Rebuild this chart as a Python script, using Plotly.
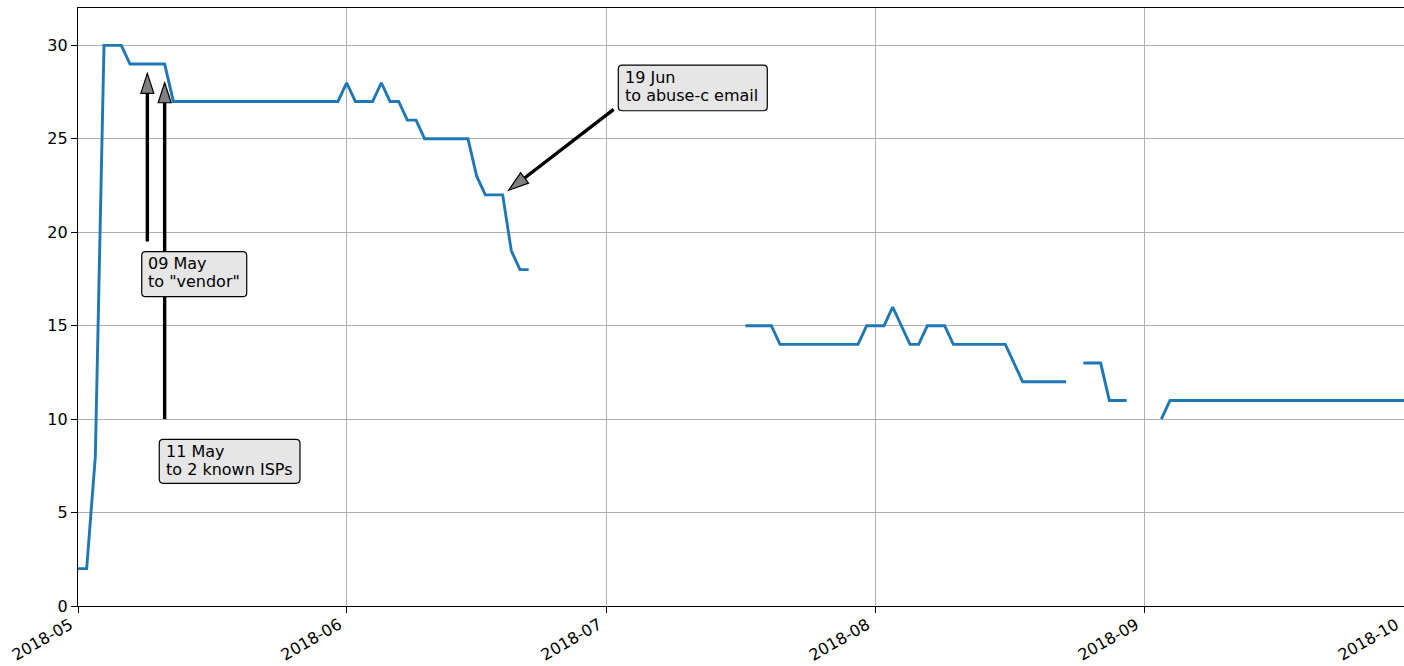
import numpy as np
import pandas as pd
import plotly.graph_objects as go

# ---- daily counts, 2018-05-01 .. 2018-10-01 (None = no measurement) ----
counts_may = [2, 2, 8, 30, 30, 30, 29, 29, 29, 29, 29, 27, 27, 27, 27, 27,
              27, 27, 27, 27, 27, 27, 27, 27, 27, 27, 27, 27, 27, 27, 27]
counts_jun = [28, 27, 27, 27, 28, 27, 27, 26, 26, 25, 25, 25, 25, 25, 25,
              23, 22, 22, 22, 19, 18, 18, None, None, None, None, None, None,
              None, None]
counts_jul = [None, None, None, None, None, None, None, None, None, None,
              None, None, None, None, None, None, 15, 15, 15, 15, 14, 14,
              14, 14, 14, 14, 14, 14, 14, 14, 15]
counts_aug = [15, 15, 16, 15, 14, 14, 15, 15, 15, 14, 14, 14, 14, 14, 14,
              14, 13, 12, 12, 12, 12, 12, 12, None, 13, 13, 13, 11, 11, 11,
              None]
counts_sep = [None, None, 10, 11, 11, 11, 11, 11, 11, 11, 11, 11, 11, 11,
              11, 11, 11, 11, 11, 11, 11, 11, 11, 11, 11, 11, 11, 11, 11, 11]
counts_oct = [11]

dates = pd.date_range("2018-05-01", "2018-10-01", freq="D")
counts = counts_may + counts_jun + counts_jul + counts_aug + counts_sep + counts_oct

# x tick labels at month starts
tick_dates = ["2018-05-01", "2018-06-01", "2018-07-01", "2018-08-01",
              "2018-09-01", "2018-10-01"]
tick_labels = ["2018-05", "2018-06", "2018-07", "2018-08", "2018-09", "2018-10"]
y_ticks = [0, 5, 10, 15, 20, 25, 30]

# notification events: point the arrow at, where the label sits, label lines
note_point_dates = ["2018-05-09", "2018-05-11", "2018-06-19"]
note_point_values = [29, 29, 22]
note_text_dates = ["2018-05-09", "2018-05-11", "2018-07-03"]
note_text_values = [19, 9, 27]
note_lines = [["09 May", 'to "vendor"'],
              ["11 May", "to 2 known ISPs"],
              ["19 Jun", "to abuse-c email"]]

# ---- layout geometry ----
FIG_W, FIG_H = 1404, 666
M_L, M_R, M_T, M_B = 78, 0, 8, 60
PLOT_W = FIG_W - M_L - M_R
PLOT_H = FIG_H - M_T - M_B
X_START = pd.Timestamp("2018-05-01")
X_END = pd.Timestamp("2018-10-01")
Y_MIN, Y_MAX = 0, 32
PX_PER_DAY = PLOT_W / ((X_END - X_START) / pd.Timedelta(days=1))
PX_PER_UNIT = PLOT_H / (Y_MAX - Y_MIN)

FONT = "DejaVu Sans"
FS = 16
LINE_BLUE = "#1f77b4"
GRID = "#b0b0b0"


def to_px(d, v):
    return np.array([((pd.Timestamp(d) - X_START) / pd.Timedelta(days=1)) * PX_PER_DAY,
                     (v - Y_MIN) * PX_PER_UNIT])


fig = go.Figure()
fig.add_trace(go.Scatter(
    x=dates, y=counts, mode="lines",
    line=dict(color=LINE_BLUE, width=2.9),
    connectgaps=False, showlegend=False, hoverinfo="x+y",
))

shapes = []
annotations = []

# arrow from the label towards the point, shortened at both ends
HEAD_LEN, HEAD_W = 20, 13
tail_shrink = [0.95, 0.95, 0.915]
for pd_, pv, td, tv, ts in zip(note_point_dates, note_point_values,
                                note_text_dates, note_text_values, tail_shrink):
    vec = to_px(td, tv) - to_px(pd_, pv)
    u = vec / np.linalg.norm(vec)
    perp = np.array([-u[1], u[0]])
    tip = 0.05 * vec
    base = tip + HEAD_LEN * u
    tail = ts * vec
    c1 = base + perp * HEAD_W / 2
    c2 = base - perp * HEAD_W / 2
    common = dict(type="path", xref="x", yref="y", xsizemode="pixel",
                  ysizemode="pixel", xanchor=pd_, yanchor=pv, layer="above")
    shapes.append(dict(path=f"M {base[0]:.2f},{base[1]:.2f} L {tail[0]:.2f},{tail[1]:.2f}",
                       line=dict(color="black", width=3.4), **common))
    shapes.append(dict(path=(f"M {tip[0]:.2f},{tip[1]:.2f} L {c1[0]:.2f},{c1[1]:.2f} "
                             f"L {c2[0]:.2f},{c2[1]:.2f} Z"),
                       fillcolor="#808080", line=dict(color="black", width=1.2),
                       **common))

# rounded label boxes (pixel offsets from the label anchor: left, right, top, bottom)
box_rects = [(-5.6, 99.4, -0.7, -45.7),
             (-5.4, 135.3, -1.5, -45.5),
             (-5.7, 143.3, 36.4, -9.3)]
# baseline of the first text line relative to the anchor (pixels, up positive)
first_baseline = [-19, -20, 18]
LINE_STEP = 18
R = 4
for td, tv, (l, r, t, b), fb, lines in zip(note_text_dates, note_text_values,
                                            box_rects, first_baseline, note_lines):
    path = (f"M {l + R},{t} L {r - R},{t} Q {r},{t} {r},{t - R} "
            f"L {r},{b + R} Q {r},{b} {r - R},{b} "
            f"L {l + R},{b} Q {l},{b} {l},{b + R} "
            f"L {l},{t - R} Q {l},{t} {l + R},{t} Z")
    shapes.append(dict(type="path", xref="x", yref="y", xsizemode="pixel",
                       ysizemode="pixel", xanchor=td, yanchor=tv, path=path,
                       fillcolor="#e6e6e6", line=dict(color="black", width=1.2),
                       layer="above"))
    for i, txt in enumerate(lines):
        baseline = fb - i * LINE_STEP
        annotations.append(dict(
            x=td, y=tv, xref="x", yref="y", text=txt, showarrow=False,
            xanchor="left", yanchor="middle", xshift=-1,
            yshift=baseline + 6,
            font=dict(family=FONT, size=FS, color="black"),
        ))

# month labels, rotated and right-aligned under each tick
for d, lab in zip(tick_dates, tick_labels):
    annotations.append(dict(
        x=d, y=0, xref="x", yref="paper", text=lab, showarrow=False,
        textangle=-30, xanchor="right", yanchor="top",
        xshift=1, yshift=-6,
        font=dict(family=FONT, size=FS, color="black"),
    ))

axis_common = dict(
    showgrid=True, gridcolor=GRID, gridwidth=1.3,
    showline=True, linecolor="black", linewidth=1.3,
    ticks="outside", ticklen=6, tickwidth=1.3, tickcolor="black",
    tickfont=dict(family=FONT, size=FS, color="black"),
    zeroline=False, automargin=False,
)

fig.update_layout(
    width=FIG_W, height=FIG_H,
    margin=dict(l=M_L, r=M_R, t=M_T, b=M_B, pad=0),
    paper_bgcolor="white", plot_bgcolor="white",
    showlegend=False,
    xaxis=dict(type="date", range=[X_START, X_END], tickvals=tick_dates,
               showticklabels=False, mirror=True, **axis_common),
    yaxis=dict(range=[Y_MIN, Y_MAX], tickvals=y_ticks, mirror=False,
               **axis_common),
    shapes=shapes,
    annotations=annotations,
    font=dict(family=FONT, size=FS, color="black"),
)

fig.write_html("out.html")
